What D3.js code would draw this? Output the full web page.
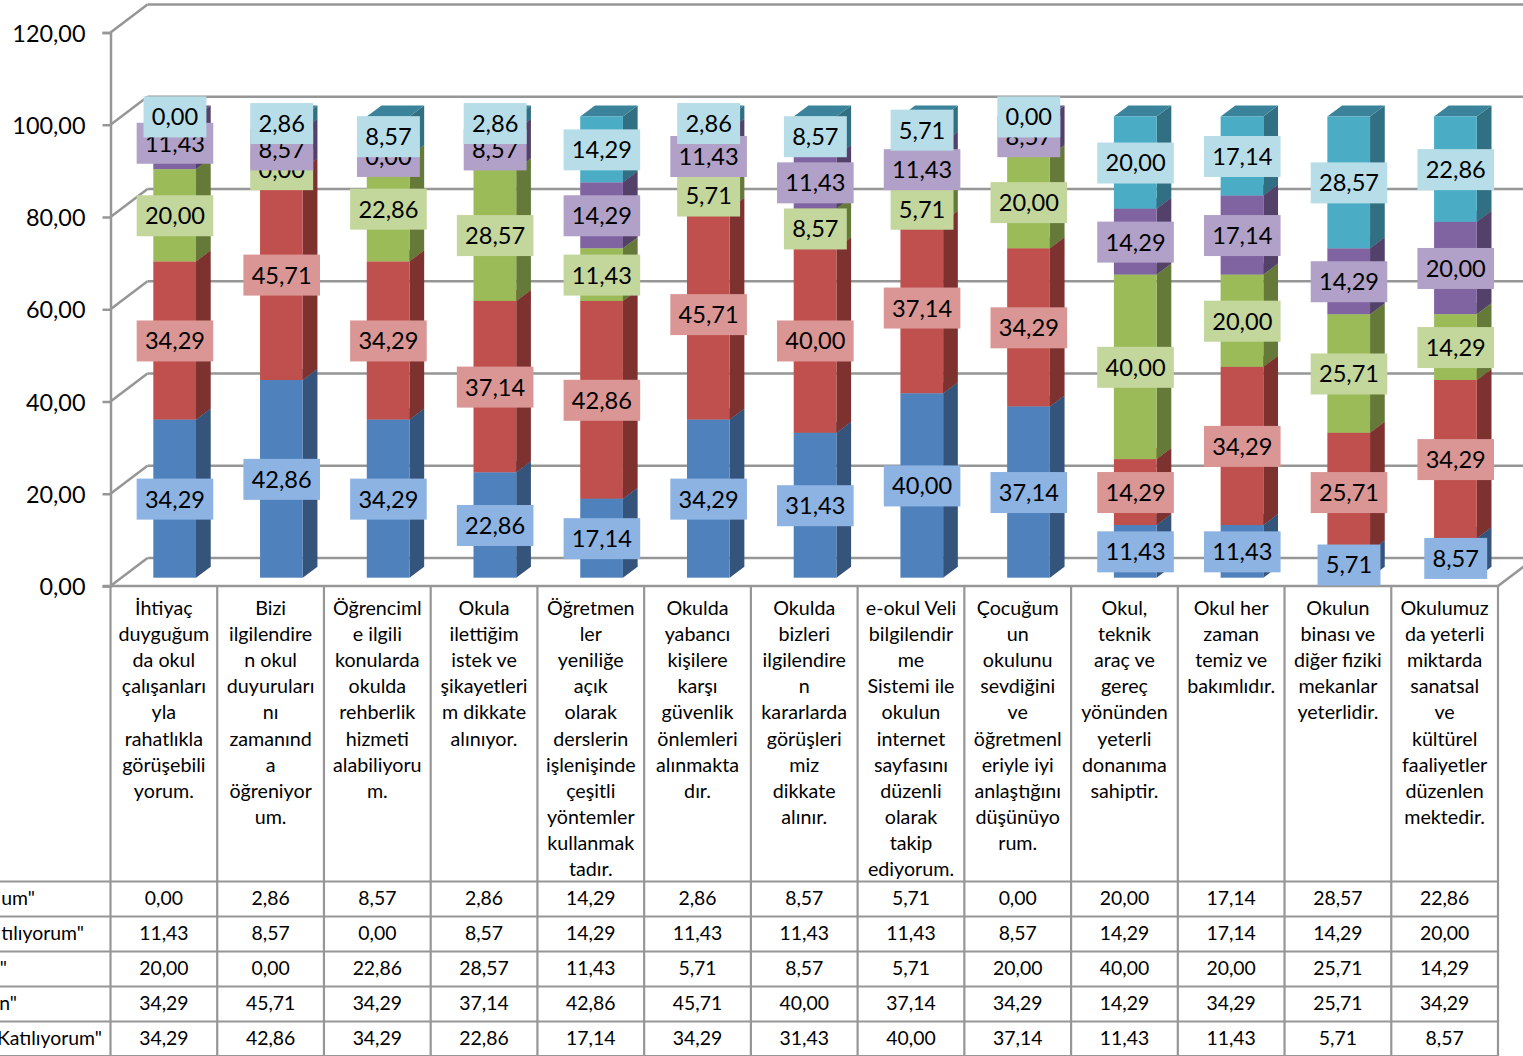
<!DOCTYPE html>
<html>
<head>
<meta charset="utf-8" />
<title>Chart</title>
<script src="https://cdnjs.cloudflare.com/ajax/libs/d3/7.8.5/d3.min.js"></script>
<style>
  html, body { margin: 0; padding: 0; background: #fff; overflow: hidden; }
  svg { display: block; font-family: Lato, "Open Sans", sans-serif; fill: #000; }
  .axis path, .axis line { stroke: #969696; stroke-width: 2.5; }
  .axis text { font-size: 23.4px; fill: #000; font-family: Lato, sans-serif; }
</style>
</head>
<body>
<svg id="chart" width="1523" height="1056"></svg>
<script>
const categories = [
  ['İhtiyaç','duyguğum','da okul','çalışanları','yla','rahatlıkla','görüşebili','yorum.'],
  ['Bizi','ilgilendire','n okul','duyuruları','nı','zamanınd','a','öğreniyor','um.'],
  ['Öğrenciml','e ilgili','konularda','okulda','rehberlik','hizmeti','alabiliyoru','m.'],
  ['Okula','ilettiğim','istek ve','şikayetleri','m dikkate','alınıyor.'],
  ['Öğretmen','ler','yeniliğe','açık','olarak','derslerin','işlenişinde','çeşitli','yöntemler','kullanmak','tadır.'],
  ['Okulda','yabancı','kişilere','karşı','güvenlik','önlemleri','alınmakta','dır.'],
  ['Okulda','bizleri','ilgilendire','n','kararlarda','görüşleri','miz','dikkate','alınır.'],
  ['e-okul Veli','bilgilendir','me','Sistemi ile','okulun','internet','sayfasını','düzenli','olarak','takip','ediyorum.'],
  ['Çocuğum','un','okulunu','sevdiğini','ve','öğretmenl','eriyle iyi','anlaştığını','düşünüyo','rum.'],
  ['Okul,','teknik','araç ve','gereç','yönünden','yeterli','donanıma','sahiptir.'],
  ['Okul her','zaman','temiz ve','bakımlıdır.'],
  ['Okulun','binası ve','diğer fiziki','mekanlar','yeterlidir.'],
  ['Okulumuz','da yeterli','miktarda','sanatsal','ve','kültürel','faaliyetler','düzenlen','mektedir.']
]
const blueValues   = [34.29,42.86,34.29,22.86,17.14,34.29,31.43,40.00,37.14,11.43,11.43,5.71,8.57]
const redValues    = [34.29,45.71,34.29,37.14,42.86,45.71,40.00,37.14,34.29,14.29,34.29,25.71,34.29]
const greenValues  = [20.00,0.00,22.86,28.57,11.43,5.71,8.57,5.71,20.00,40.00,20.00,25.71,14.29]
const purpleValues = [11.43,8.57,0.00,8.57,14.29,11.43,11.43,11.43,8.57,14.29,17.14,14.29,20.00]
const cyanValues   = [0.00,2.86,8.57,2.86,14.29,2.86,8.57,5.71,0.00,20.00,17.14,28.57,22.86]
const tickValues = [0,20,40,60,80,100,120]
// only the end of each row name is visible, the rest is cut by the picture edge
const rowNames = ['um"','tılıyorum"','"','n"','Katılıyorum"']
const rowNameEnds = [35,84,7,17,102]

const seriesKeys = ['blue','red','green','purple','cyan']
const seriesValues = {blue: blueValues, red: redValues, green: greenValues, purple: purpleValues, cyan: cyanValues}
const faceColor = {blue:'#4f81bd', red:'#c0504d', green:'#9bbb59', purple:'#8064a2', cyan:'#4bacc6'}
const sideColor = {blue:'#34547c', red:'#7e3230', green:'#657a39', purple:'#53416a', cyan:'#316f82'}
const topColor  = {blue:'#3f6897', red:'#9a403e', green:'#7c9647', purple:'#665082', cyan:'#3a839a'}
const labelColor = {blue:'#8db3e2', red:'#da9694', green:'#c3d69b', purple:'#b1a0c7', cyan:'#b7dee8'}

const comma = d3.formatLocale({decimal: ',', thousands: '.', grouping: [3], currency: ['', '']}).format('.2f')

const wallDx = 37, wallDy = 28     // depth of the walls
const barDx = 14.7, barDy = 11     // depth of the bars
const barWidth = 42.7

const svg = d3.select('#chart')
const x = d3.scaleBand().domain(d3.range(categories.length)).range([110.5, 1498])
const y = d3.scaleLinear().domain([0, 120]).range([586, 32.5])
const barBase = 8.3                // bars stand a bit behind the front edge of the floor
const barX = i => x(i) + x.bandwidth() / 2 + 10.8 - barWidth / 2
const right = x(categories.length - 1) + x.bandwidth()

// walls and grid
const grid = svg.append('g').attr('fill', 'none').attr('stroke', '#969696').attr('stroke-width', 2.5)
grid.selectAll('line.back').data(tickValues).enter().append('line')
  .attr('class', 'back')
  .attr('x1', 110.5 + wallDx).attr('x2', right + wallDx)
  .attr('y1', d => y(d) - wallDy).attr('y2', d => y(d) - wallDy)
grid.selectAll('line.side').data(tickValues).enter().append('line')
  .attr('class', 'side')
  .attr('x1', 110.5).attr('x2', 110.5 + wallDx)
  .attr('y1', d => y(d)).attr('y2', d => y(d) - wallDy)
grid.append('line').attr('x1', right).attr('y1', y(0)).attr('x2', right + wallDx).attr('y2', y(0) - wallDy)

let axis = d3.axisLeft(y).tickValues(tickValues).tickFormat(comma).tickSize(8).tickPadding(17)
const axisG = svg.append('g').attr('class', 'axis').attr('transform', 'translate(110.5,0)').call(axis)
axisG.selectAll('text').attr('dy', '0.37em')
svg.append('line').attr('x1', 103).attr('x2', right).attr('y1', y(0)).attr('y2', y(0))
  .attr('stroke', '#969696').attr('stroke-width', 2.5)

// stacked bars
const table = categories.map((c, i) => {
  let row = {}
  seriesKeys.forEach(k => { row[k] = seriesValues[k][i] })
  return row
})
const stacked = d3.stack().keys(seriesKeys)(table)

const bars = svg.append('g')
stacked.forEach(layer => {
  const k = layer.key
  layer.forEach((d, i) => {
    if (d[1] - d[0] <= 0) return
    const x0 = barX(i), x1 = x0 + barWidth
    const yb = y(d[0]) - barBase, yt = y(d[1]) - barBase
    bars.append('path')
      .attr('d', `M${x1},${yb}L${x1 + barDx},${yb - barDy}L${x1 + barDx},${yt - barDy}L${x1},${yt}Z`)
      .style('fill', sideColor[k])
    bars.append('path')
      .attr('d', `M${x0},${yt}L${x1},${yt}L${x1 + barDx},${yt - barDy}L${x0 + barDx},${yt - barDy}Z`)
      .style('fill', topColor[k])
    bars.append('rect')
      .attr('x', x0).attr('y', yt).attr('width', barWidth).attr('height', yb - yt)
      .style('fill', faceColor[k])
  })
})

// data labels on top of everything
const labels = svg.append('g')
stacked.forEach(layer => {
  layer.forEach((d, i) => {
    const cx = barX(i) + barWidth / 2 + 0.3
    const cy = (y(d[0]) + y(d[1])) / 2 - barBase
    const g = labels.append('g')
    const box = g.append('rect').style('fill', labelColor[layer.key])
    const t = g.append('text')
      .attr('x', cx).attr('y', cy).attr('dy', '0.38em')
      .attr('text-anchor', 'middle')
      .style('font-size', '23.6px')
      .text(comma(d[1] - d[0]))
    const w = t.node().getComputedTextLength() + 16.5
    box.attr('x', cx - w / 2).attr('y', cy - 20).attr('width', w).attr('height', 41)
  })
})

// data table under the chart
const rowTops = [881.5, 916.5, 951.5, 986.5, 1021.5, 1056]
const tableLines = svg.append('g').attr('stroke', '#969696').attr('stroke-width', 2.2)
tableLines.selectAll('line.v').data(d3.range(categories.length + 1)).enter().append('line')
  .attr('class', 'v')
  .attr('x1', i => i < categories.length ? x(i) : right)
  .attr('x2', i => i < categories.length ? x(i) : right)
  .attr('y1', y(0)).attr('y2', 1056)
tableLines.selectAll('line.h').data(rowTops).enter().append('line')
  .attr('class', 'h')
  .attr('x1', 0).attr('x2', right)
  .attr('y1', d => d).attr('y2', d => d)

// category names, already broken the way the picture breaks them
categories.forEach((lines, i) => {
  const t = svg.append('text').attr('text-anchor', 'middle').style('font-size', '19.7px')
  lines.forEach((line, n) => {
    t.append('tspan')
      .attr('x', x(i) + x.bandwidth() / 2)
      .attr('y', 615 + n * 26.1)
      .text(line)
  })
})

// table values, top row is the last series
const rowKeys = seriesKeys.slice().reverse()
rowKeys.forEach((k, r) => {
  svg.append('text').attr('x', rowNameEnds[r]).attr('y', rowTops[r] + 23.5)
    .attr('text-anchor', 'end').style('font-size', '19.4px').text(rowNames[r])
  svg.selectAll('text.cell-' + k).data(seriesValues[k]).enter().append('text')
    .attr('class', 'cell-' + k)
    .attr('x', (d, i) => x(i) + x.bandwidth() / 2)
    .attr('y', rowTops[r] + 23.5)
    .attr('text-anchor', 'middle')
    .style('font-size', '19.4px')
    .text(d => comma(d))
})
</script>
</body>
</html>
